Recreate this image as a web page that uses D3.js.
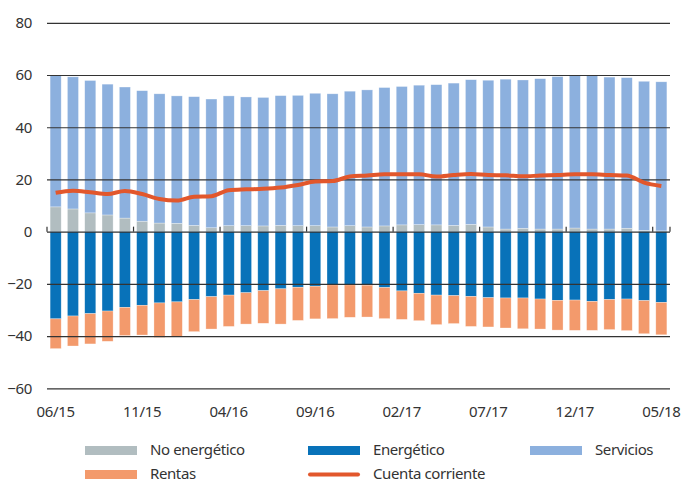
<!DOCTYPE html>
<html lang="es">
<head>
<meta charset="UTF-8">
<title>Balanza</title>
<style>
  body { margin: 0; background: #fff; }
  text { font-family: "Noto Sans", sans-serif; fill: #333; }
</style>
</head>
<body>
<script src="https://cdn.jsdelivr.net/npm/d3@7/dist/d3.min.js"></script>
<script>
	// meses
	let months = ['06/15','07/15','08/15','09/15','10/15','11/15','12/15','01/16','02/16','03/16','04/16','05/16',
		'06/16','07/16','08/16','09/16','10/16','11/16','12/16','01/17','02/17','03/17','04/17','05/17',
		'06/17','07/17','08/17','09/17','10/17','11/17','12/17','01/18','02/18','03/18','04/18','05/18'];
	let tickLabels = ['06/15','11/15','04/16','09/16','02/17','07/17','12/17','05/18'];
	let yTicks = [-60, -40, -20, 0, 20, 40, 60, 80];

	// series
	let noEnergetico = [9.5,8.7,7.2,6.4,5.2,4.0,3.3,3.2,2.4,1.5,2.3,2.3,2.2,2.4,2.3,2.3,1.8,2.3,1.8,2.2,2.6,2.7,2.6,2.4,2.8,1.8,1.0,1.3,1.0,1.0,1.4,1.0,1.0,1.3,0.5,0.3];
	let servicios = [50.3,50.6,50.7,50.1,50.2,50.0,49.5,48.8,49.3,49.3,49.7,49.3,49.2,49.7,49.9,50.7,51.0,51.5,52.5,53.0,53.0,53.4,53.7,54.5,55.4,56.2,57.4,56.8,57.6,58.4,58.4,58.9,58.2,57.7,57.1,57.1];
	let energetico = [-33.4,-32.3,-31.4,-30.4,-29.0,-28.2,-27.3,-26.9,-26.0,-24.9,-24.3,-23.4,-22.6,-21.9,-21.3,-20.9,-20.4,-20.4,-20.5,-21.4,-22.7,-23.6,-24.3,-24.5,-24.8,-25.3,-25.4,-25.4,-25.8,-26.3,-26.2,-26.7,-26.0,-25.8,-26.4,-27.1];
	let rentas = [-11.4,-11.5,-11.6,-11.6,-10.8,-11.4,-13.2,-13.4,-12.3,-12.4,-12.0,-12.0,-12.5,-13.5,-12.7,-12.5,-12.9,-12.4,-12.2,-11.9,-10.9,-10.5,-11.3,-10.7,-11.5,-11.2,-11.5,-11.8,-11.5,-11.4,-11.6,-11.1,-11.5,-12.1,-12.7,-12.4];
	let cuentaCorriente = [14.9,15.7,15.1,14.4,15.6,14.4,12.5,11.9,13.4,13.6,15.9,16.2,16.4,16.9,17.9,19.2,19.4,21.1,21.5,22.0,22.0,22.0,21.1,21.7,22.1,21.7,21.6,21.2,21.5,21.7,22.0,22.0,21.7,21.5,18.8,17.5];

	let width = 685;
	let height = 483;
	let plot = { left: 47, right: 670, top: 22.8, bottom: 388.3 };

	let colors = {
		noEnergetico: '#b1bdc0',
		energetico: '#0872b9',
		servicios: '#8cb0de',
		rentas: '#f39a6c',
		cuenta: '#e2572c'
	};

	let svg = d3.select('body')
			.append('svg')
			.attr('width', width)
			.attr('height', height);

	let xScale = d3.scaleBand()
			.domain(months)
			.range([plot.left, plot.right])
			.paddingInner(0.36)
			.paddingOuter(0.18);
	let yScale = d3.scaleLinear()
			.domain([-60, 80])
			.range([plot.bottom, plot.top]);

	// filas para el apilado
	let rows = months.map(function(m, i) {
		return { month: m, noEnergetico: noEnergetico[i], servicios: servicios[i], energetico: energetico[i], rentas: rentas[i] };
	});
	let stack = d3.stack()
			.keys(['noEnergetico', 'servicios', 'energetico', 'rentas'])
			.offset(d3.stackOffsetDiverging);
	let series = stack(rows);

	svg.append('g')
			.selectAll('g')
			.data(series)
			.enter()
			.append('g')
			.attr('fill', function(s) { return colors[s.key]; })
			.selectAll('rect')
			.data(function(s) { return s; })
			.enter()
			.append('rect')
			.attr('x', function(d) { return xScale(d.data.month); })
			.attr('width', xScale.bandwidth())
			.attr('y', function(d) { return yScale(Math.max(d[0], d[1])); })
			.attr('height', function(d) { return Math.abs(yScale(d[0]) - yScale(d[1])); })
			.attr('stroke', '#fff')
			.attr('stroke-opacity', 0.5)
			.attr('stroke-width', 0.6);

	// rejilla (encima de las barras)
	let grid = d3.axisLeft(yScale)
			.tickValues(yTicks)
			.tickSize(-(plot.right - plot.left))
			.tickFormat('');
	svg.append('g')
			.attr('transform', 'translate(' + plot.left + ',0)')
			.call(grid)
			.call(function(g) { g.select('.domain').remove(); })
			.selectAll('line')
			.attr('stroke', '#333')
			.attr('stroke-width', 1.2);

	// etiquetas eje y
	let yAxis = d3.axisLeft(yScale)
			.tickValues(yTicks)
			.tickSize(0)
			.tickPadding(15)
			.tickFormat(d3.format('d'));
	svg.append('g')
			.attr('transform', 'translate(' + plot.left + ',0)')
			.call(yAxis)
			.call(function(g) { g.select('.domain').remove(); })
			.selectAll('text')
			.style('font-size', '15px')
			.style('letter-spacing', '-0.3px')
			.attr('fill', '#333');

	// eje x: marcas en el cero
	let half = xScale.step() * xScale.paddingInner() / 2;
	svg.append('g')
			.selectAll('line')
			.data(tickLabels)
			.enter()
			.append('line')
			.attr('x1', function(d) { return xScale(d) - half; })
			.attr('x2', function(d) { return xScale(d) - half; })
			.attr('y1', yScale(0))
			.attr('y2', yScale(0) - 5)
			.attr('stroke', '#333')
			.attr('stroke-width', 1.2);
	svg.append('line')
			.attr('x1', plot.right)
			.attr('x2', plot.right)
			.attr('y1', yScale(0))
			.attr('y2', yScale(0) - 5)
			.attr('stroke', '#333')
			.attr('stroke-width', 1.2);

	svg.append('g')
			.selectAll('text')
			.data(tickLabels)
			.enter()
			.append('text')
			.attr('x', function(d) { return xScale(d) + xScale.bandwidth() / 2; })
			.attr('y', 417)
			.attr('text-anchor', 'middle')
			.style('font-size', '15px')
			.style('letter-spacing', '-0.3px')
			.text(function(d) { return d; });

	// linea cuenta corriente
	let linePath = d3.line()
			.x(function(d, i) { return xScale(months[i]) + xScale.bandwidth() / 2; })
			.y(function(d) { return yScale(d); })
			.curve(d3.curveMonotoneX);
	svg.append('path')
			.attr('d', linePath(cuentaCorriente))
			.attr('fill', 'none')
			.attr('stroke', colors.cuenta)
			.attr('stroke-width', 4)
			.attr('stroke-linejoin', 'round');

	// leyenda
	let legend = [
		{ label: 'No energético', key: 'noEnergetico', x: 85, y: 450.5, type: 'rect' },
		{ label: 'Energético', key: 'energetico', x: 308, y: 450.5, type: 'rect' },
		{ label: 'Servicios', key: 'servicios', x: 530, y: 450.5, type: 'rect' },
		{ label: 'Rentas', key: 'rentas', x: 85, y: 474.5, type: 'rect' },
		{ label: 'Cuenta corriente', key: 'cuenta', x: 308, y: 474.5, type: 'line' }
	];
	let lg = svg.append('g')
			.selectAll('g')
			.data(legend)
			.enter()
			.append('g')
			.attr('transform', function(d) { return 'translate(' + d.x + ',' + d.y + ')'; });
	lg.append('rect')
			.attr('x', 0)
			.attr('width', 52)
			.attr('y', function(d) { return d.type === 'line' ? -2 : -4.5; })
			.attr('height', function(d) { return d.type === 'line' ? 4 : 9; })
			.attr('rx', function(d) { return d.type === 'line' ? 2 : 0; })
			.attr('fill', function(d) { return colors[d.key]; });
	lg.append('text')
			.attr('x', 65)
			.attr('y', 4.5)
			.style('font-size', '15px')
			.style('letter-spacing', '-0.4px')
			.text(function(d) { return d.label; });
</script>
</body>
</html>
